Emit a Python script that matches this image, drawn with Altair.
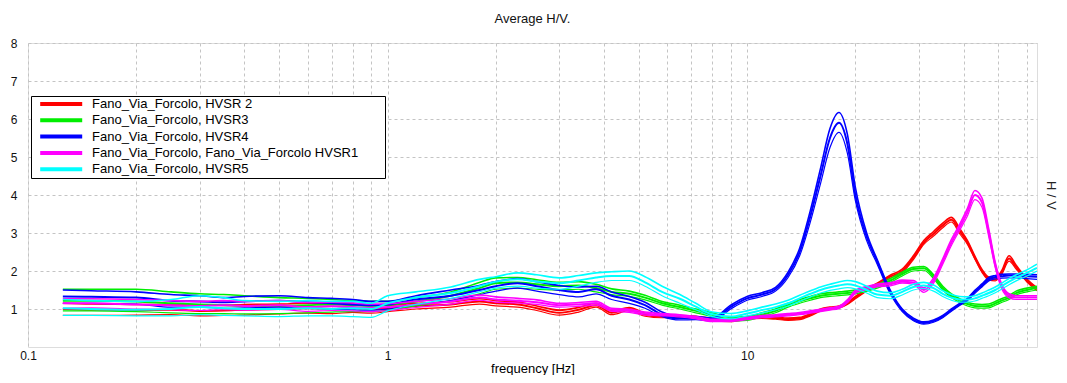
import altair as alt
import pandas as pd

# ---------------- data ----------------
freq = [0.125, 0.15, 0.2, 0.25, 0.3, 0.35, 0.4, 0.5, 0.6, 0.7, 0.8, 0.9, 1.0,
        1.2, 1.5, 1.8, 2.0, 2.3, 2.6, 3.0, 3.4, 3.8, 4.2, 4.7, 5.2, 5.8, 6.5,
        7.2, 8.0, 9.0, 10, 11, 12, 13, 14, 15, 16, 17, 18, 19, 20, 21.5, 23,
        25, 27, 29, 31, 33, 35, 37, 39, 41, 43, 45, 47, 49, 51, 53.5, 56, 60, 64]

series_names = [
    "Fano_Via_Forcolo, HVSR 2",
    "Fano_Via_Forcolo, HVSR3",
    "Fano_Via_Forcolo, HVSR4",
    "Fano_Via_Forcolo, Fano_Via_Forcolo HVSR1",
    "Fano_Via_Forcolo, HVSR5",
]
series_colors = ["#ff0000", "#00ee00", "#0000ff", "#ff00ff", "#00ffff"]

# HVSR 2 (red)
hvsr2_mean = [1.0, 0.98, 0.97, 0.98, 0.95, 0.96, 0.98, 1.0, 1.02, 1.0, 1.03, 1.0, 1.02,
              1.08, 1.12, 1.2, 1.15, 1.12, 1.02, 0.9, 0.98, 1.1, 0.9, 1.0, 0.85, 0.8, 0.8,
              0.78, 0.72, 0.7, 0.76, 0.78, 0.76, 0.73, 0.75, 0.85, 0.97, 1.02, 1.05, 1.15, 1.3, 1.5, 1.65,
              1.85, 2.0, 2.35, 2.75, 2.98, 3.2, 3.35, 3.05, 2.75, 2.35, 2.0, 1.8, 1.78, 1.95, 2.33, 2.1, 1.75, 1.52]
hvsr2_upper = [1.15, 1.13, 1.12, 1.12, 1.1, 1.1, 1.12, 1.13, 1.15, 1.12, 1.14, 1.1, 1.1,
               1.15, 1.19, 1.27, 1.22, 1.18, 1.08, 0.97, 1.04, 1.15, 0.95, 1.04, 0.89, 0.83, 0.83,
               0.81, 0.75, 0.73, 0.79, 0.81, 0.79, 0.76, 0.78, 0.88, 1.0, 1.05, 1.08, 1.18, 1.33, 1.53, 1.68,
               1.89, 2.05, 2.4, 2.8, 3.04, 3.26, 3.41, 3.12, 2.8, 2.39, 2.04, 1.84, 1.82, 2.0, 2.4, 2.15, 1.79, 1.56]
hvsr2_lower = [0.83, 0.83, 0.84, 0.85, 0.82, 0.83, 0.84, 0.87, 0.89, 0.88, 0.91, 0.89, 0.93,
               1.0, 1.05, 1.13, 1.08, 1.05, 0.96, 0.84, 0.92, 1.05, 0.85, 0.96, 0.81, 0.77, 0.77,
               0.75, 0.69, 0.67, 0.73, 0.75, 0.73, 0.7, 0.72, 0.82, 0.94, 0.99, 1.02, 1.12, 1.27, 1.47, 1.62,
               1.81, 1.95, 2.3, 2.7, 2.92, 3.14, 3.29, 2.98, 2.7, 2.31, 1.96, 1.76, 1.74, 1.9, 2.26, 2.05, 1.71, 1.48]

# HVSR3 (green)
hvsr3_mean = [1.22, 1.22, 1.2, 1.15, 1.12, 1.1, 1.08, 1.08, 1.1, 1.12, 1.1, 1.08, 1.1,
              1.2, 1.35, 1.55, 1.68, 1.7, 1.65, 1.6, 1.62, 1.55, 1.45, 1.4, 1.3, 1.15, 1.05,
              0.95, 0.85, 0.73, 0.75, 0.85, 0.95, 1.1, 1.2, 1.28, 1.35, 1.38, 1.4, 1.42, 1.45, 1.52, 1.6,
              1.75, 1.92, 2.05, 2.07, 1.85, 1.55, 1.35, 1.22, 1.13, 1.08, 1.07, 1.08, 1.15, 1.22, 1.3, 1.42, 1.5, 1.55]
hvsr3_upper = [1.52, 1.52, 1.52, 1.45, 1.4, 1.38, 1.35, 1.3, 1.28, 1.25, 1.22, 1.2, 1.2,
               1.3, 1.45, 1.7, 1.82, 1.83, 1.77, 1.7, 1.72, 1.65, 1.53, 1.47, 1.36, 1.2, 1.1,
               1.0, 0.9, 0.78, 0.8, 0.9, 1.0, 1.15, 1.25, 1.33, 1.4, 1.43, 1.45, 1.47, 1.5, 1.57, 1.65,
               1.8, 1.97, 2.1, 2.12, 1.9, 1.6, 1.4, 1.27, 1.18, 1.13, 1.12, 1.13, 1.2, 1.27, 1.35, 1.47, 1.55, 1.6]
hvsr3_lower = [0.95, 0.95, 0.93, 0.9, 0.88, 0.88, 0.87, 0.88, 0.9, 0.92, 0.93, 0.93, 0.97,
               1.08, 1.22, 1.4, 1.52, 1.55, 1.52, 1.5, 1.52, 1.45, 1.38, 1.33, 1.24, 1.1, 1.0,
               0.9, 0.8, 0.68, 0.7, 0.8, 0.9, 1.05, 1.15, 1.23, 1.3, 1.33, 1.35, 1.37, 1.4, 1.47, 1.55,
               1.7, 1.87, 2.0, 2.02, 1.8, 1.5, 1.3, 1.17, 1.08, 1.03, 1.02, 1.03, 1.1, 1.17, 1.25, 1.37, 1.45, 1.5]

# HVSR4 (blue)
hvsr4_mean = [1.33, 1.32, 1.3, 1.22, 1.2, 1.18, 1.2, 1.22, 1.18, 1.15, 1.12, 1.1, 1.12,
              1.25, 1.35, 1.5, 1.6, 1.68, 1.6, 1.5, 1.45, 1.52, 1.35, 1.25, 1.1, 0.85, 0.75,
              0.76, 0.72, 1.05, 1.28, 1.38, 1.52, 1.9, 2.5, 3.45, 4.5, 5.5, 5.9, 5.35, 4.0, 2.9, 2.25,
              1.45, 0.97, 0.72, 0.63, 0.68, 0.8, 0.97, 1.12, 1.25, 1.45, 1.62, 1.78, 1.84, 1.86, 1.88, 1.88, 1.86, 1.85]
hvsr4_upper = [1.5, 1.48, 1.45, 1.38, 1.35, 1.3, 1.33, 1.35, 1.3, 1.28, 1.25, 1.2, 1.2,
               1.35, 1.5, 1.62, 1.72, 1.8, 1.72, 1.62, 1.58, 1.6, 1.45, 1.33, 1.18, 0.92, 0.8,
               0.8, 0.76, 1.1, 1.33, 1.43, 1.57, 1.97, 2.6, 3.6, 4.7, 5.75, 6.17, 5.6, 4.2, 3.0, 2.3,
               1.5, 1.0, 0.76, 0.66, 0.71, 0.83, 1.0, 1.15, 1.28, 1.49, 1.66, 1.83, 1.88, 1.91, 1.92, 1.92, 1.91, 1.9]
hvsr4_lower = [1.15, 1.15, 1.13, 1.05, 1.05, 1.02, 1.03, 1.05, 1.02, 1.0, 0.98, 0.97, 1.0,
               1.12, 1.22, 1.38, 1.47, 1.55, 1.47, 1.38, 1.32, 1.4, 1.25, 1.15, 1.02, 0.8, 0.71,
               0.72, 0.68, 1.0, 1.23, 1.33, 1.47, 1.83, 2.4, 3.3, 4.3, 5.25, 5.65, 5.1, 3.85, 2.8, 2.18,
               1.4, 0.93, 0.69, 0.6, 0.65, 0.77, 0.94, 1.09, 1.22, 1.41, 1.58, 1.74, 1.79, 1.81, 1.82, 1.82, 1.8, 1.78]

# HVSR1 (magenta)
hvsr1_mean = [1.15, 1.15, 1.12, 1.1, 1.08, 1.1, 1.08, 1.1, 1.05, 1.07, 1.05, 1.03, 1.05,
              1.12, 1.2, 1.3, 1.25, 1.22, 1.18, 1.1, 1.12, 1.15, 0.98, 0.95, 0.88, 0.85, 0.82,
              0.77, 0.7, 0.7, 0.75, 0.8, 0.82, 0.85, 0.88, 0.92, 0.96, 1.0, 1.04, 1.2, 1.45, 1.55, 1.62,
              1.65, 1.72, 1.7, 1.5, 1.75, 2.25, 2.75, 3.15, 3.55, 4.0, 3.8, 3.0, 2.15, 1.6, 1.35, 1.3, 1.3, 1.3]
hvsr1_upper = [1.27, 1.27, 1.25, 1.22, 1.2, 1.22, 1.2, 1.22, 1.17, 1.18, 1.16, 1.13, 1.14,
               1.2, 1.27, 1.37, 1.32, 1.28, 1.24, 1.15, 1.17, 1.2, 1.02, 0.99, 0.92, 0.88, 0.85,
               0.8, 0.73, 0.73, 0.78, 0.83, 0.85, 0.88, 0.91, 0.95, 0.99, 1.03, 1.07, 1.24, 1.49, 1.59, 1.66,
               1.69, 1.76, 1.75, 1.56, 1.82, 2.32, 2.83, 3.23, 3.65, 4.12, 3.92, 3.1, 2.22, 1.66, 1.4, 1.35, 1.35, 1.35]
hvsr1_lower = [1.02, 1.03, 1.0, 0.98, 0.96, 0.98, 0.97, 0.99, 0.94, 0.96, 0.95, 0.93, 0.96,
               1.04, 1.13, 1.23, 1.18, 1.16, 1.12, 1.05, 1.07, 1.1, 0.94, 0.91, 0.84, 0.82, 0.79,
               0.74, 0.67, 0.67, 0.72, 0.77, 0.79, 0.82, 0.85, 0.89, 0.93, 0.97, 1.01, 1.16, 1.41, 1.51, 1.58,
               1.61, 1.68, 1.65, 1.44, 1.68, 2.18, 2.67, 3.07, 3.45, 3.88, 3.68, 2.9, 2.08, 1.54, 1.3, 1.25, 1.25, 1.25]

# HVSR5 (cyan)
hvsr5_mean = [1.02, 1.0, 0.98, 1.0, 1.05, 1.02, 1.0, 1.0, 1.02, 1.0, 1.02, 1.0, 1.15,
              1.3, 1.42, 1.6, 1.72, 1.78, 1.72, 1.68, 1.75, 1.83, 1.87, 1.87, 1.7, 1.45, 1.27,
              1.06, 0.86, 0.8, 0.88, 0.97, 1.05, 1.15, 1.28, 1.4, 1.5, 1.57, 1.62, 1.65, 1.62, 1.5, 1.38,
              1.35, 1.45, 1.58, 1.62, 1.55, 1.4, 1.3, 1.25, 1.25, 1.28, 1.35, 1.42, 1.5, 1.6, 1.72, 1.82, 1.95, 2.08]
hvsr5_upper = [1.25, 1.22, 1.2, 1.25, 1.35, 1.3, 1.22, 1.2, 1.22, 1.2, 1.2, 1.15, 1.35,
               1.45, 1.58, 1.78, 1.85, 1.95, 1.9, 1.82, 1.88, 1.95, 1.98, 2.0, 1.85, 1.6, 1.38,
               1.15, 0.92, 0.88, 0.95, 1.05, 1.13, 1.23, 1.36, 1.48, 1.58, 1.65, 1.71, 1.75, 1.72, 1.6, 1.47,
               1.43, 1.52, 1.65, 1.7, 1.63, 1.48, 1.38, 1.33, 1.32, 1.35, 1.42, 1.5, 1.58, 1.68, 1.8, 1.9, 2.03, 2.18]
hvsr5_lower = [0.83, 0.83, 0.82, 0.82, 0.85, 0.83, 0.82, 0.8, 0.82, 0.82, 0.8, 0.78, 0.95,
               1.12, 1.28, 1.45, 1.55, 1.6, 1.55, 1.52, 1.6, 1.7, 1.75, 1.75, 1.6, 1.35, 1.15,
               0.98, 0.8, 0.74, 0.82, 0.9, 0.98, 1.08, 1.2, 1.32, 1.42, 1.49, 1.53, 1.56, 1.53, 1.42, 1.3,
               1.27, 1.37, 1.5, 1.54, 1.47, 1.33, 1.23, 1.18, 1.18, 1.21, 1.28, 1.35, 1.43, 1.52, 1.64, 1.74, 1.87, 2.0]

x_grid_values = [0.1, 0.2, 0.3, 0.4, 0.5, 0.6, 0.7, 0.8, 0.9, 1, 2, 3, 4, 5, 6, 7, 8, 9,
                 10, 20, 30, 40, 50, 60]
y_values = [1, 2, 3, 4, 5, 6, 7, 8]

# ---------------- table ----------------
curves = [
    (series_names[0], hvsr2_mean, hvsr2_upper, hvsr2_lower),
    (series_names[1], hvsr3_mean, hvsr3_upper, hvsr3_lower),
    (series_names[2], hvsr4_mean, hvsr4_upper, hvsr4_lower),
    (series_names[3], hvsr1_mean, hvsr1_upper, hvsr1_lower),
    (series_names[4], hvsr5_mean, hvsr5_upper, hvsr5_lower),
]
rows = []
for name, m, u, l in curves:
    for cname, vals in (("mean", m), ("upper", u), ("lower", l)):
        for f, v in zip(freq, vals):
            rows.append({"freq": f, "value": v, "series": name, "curve": cname})
df = pd.DataFrame(rows)

FONT = "Liberation Sans"

color_scale = alt.Scale(domain=series_names, range=series_colors)
legend = alt.Legend(
    orient="none", legendX=3, legendY=53,
    title=" ", titleOrient="right", titlePadding=27, titleFontSize=11,
    symbolType="M0.2,0H7.2", symbolSize=144, symbolStrokeWidth=4,
    symbolOpacity=1,
    labelOffset=45, labelFontSize=13, labelFont=FONT, labelColor="black",
    labelLimit=500, padding=0, rowPadding=0.3,
    strokeColor="black", fillColor="white",
)

x_enc = alt.X(
    "freq:Q",
    scale=alt.Scale(type="log", domain=[0.1, 64], nice=False),
    axis=alt.Axis(
        values=x_grid_values,
        labelExpr="datum.value == 0.1 ? '0.1' : (datum.value == 1 ? '1' : (datum.value == 10 ? '10' : ''))",
        title="frequency [Hz]", titleFont=FONT, titleFontSize=13, titleFontWeight="normal",
        titleColor="black", titlePadding=1,
        labelFont=FONT, labelFontSize=12, labelColor="#111", labelPadding=3,
        tickSize=0, domain=False, grid=True, gridDash=[3, 3], gridColor="#c4c4c4",
        labelFlush=False, labelOverlap=False,
    ),
)
y_scale = alt.Scale(domain=[0, 8], nice=False, zero=True)
stroke_scale = alt.Scale(domain=["mean", "upper", "lower"], range=[2.0, 1.2, 1.2])

layers = []
for i, name in enumerate(series_names):
    if i == 0:
        y_axis = alt.Axis(values=y_values, title=None, orient="left", tickSize=0,
                          labelPadding=11, domain=False, grid=True, gridDash=[3, 3],
                          gridColor="#c4c4c4", labelFont=FONT, labelFontSize=12,
                          labelColor="#111")
    elif i == 1:
        y_axis = alt.Axis(orient="right", labels=False, ticks=False, domain=False,
                          grid=False, title="H / V", titleAngle=90, titlePadding=6,
                          titleFont=FONT, titleFontSize=13, titleFontWeight="normal",
                          titleColor="#222")
    else:
        y_axis = None
    layer = (
        alt.Chart(df)
        .transform_filter(alt.datum.series == name)
        .mark_line(interpolate="monotone", clip=True)
        .encode(
            x=x_enc,
            y=alt.Y("value:Q", scale=y_scale, axis=y_axis),
            color=alt.Color("series:N", scale=color_scale, legend=legend, sort=series_names),
            detail="curve:N",
            strokeWidth=alt.StrokeWidth("curve:N", scale=stroke_scale, legend=None),
        )
    )
    layers.append(layer)

chart = (
    alt.layer(*layers)
    .resolve_axis(y="independent")
    .properties(
        width=1009, height=304,
        title=alt.TitleParams("Average H/V.", font=FONT, fontSize=13, fontWeight="normal",
                              color="#111", offset=11, anchor="middle"),
        autosize=alt.AutoSizeParams(type="none"),
        padding={"left": 20, "top": 35, "right": 22, "bottom": 28},
    )
    .configure_view(stroke="#555555", strokeWidth=1.5)
    .configure(background="white")
)

chart.save("out.html", embed_options={"renderer": "svg", "actions": False})
